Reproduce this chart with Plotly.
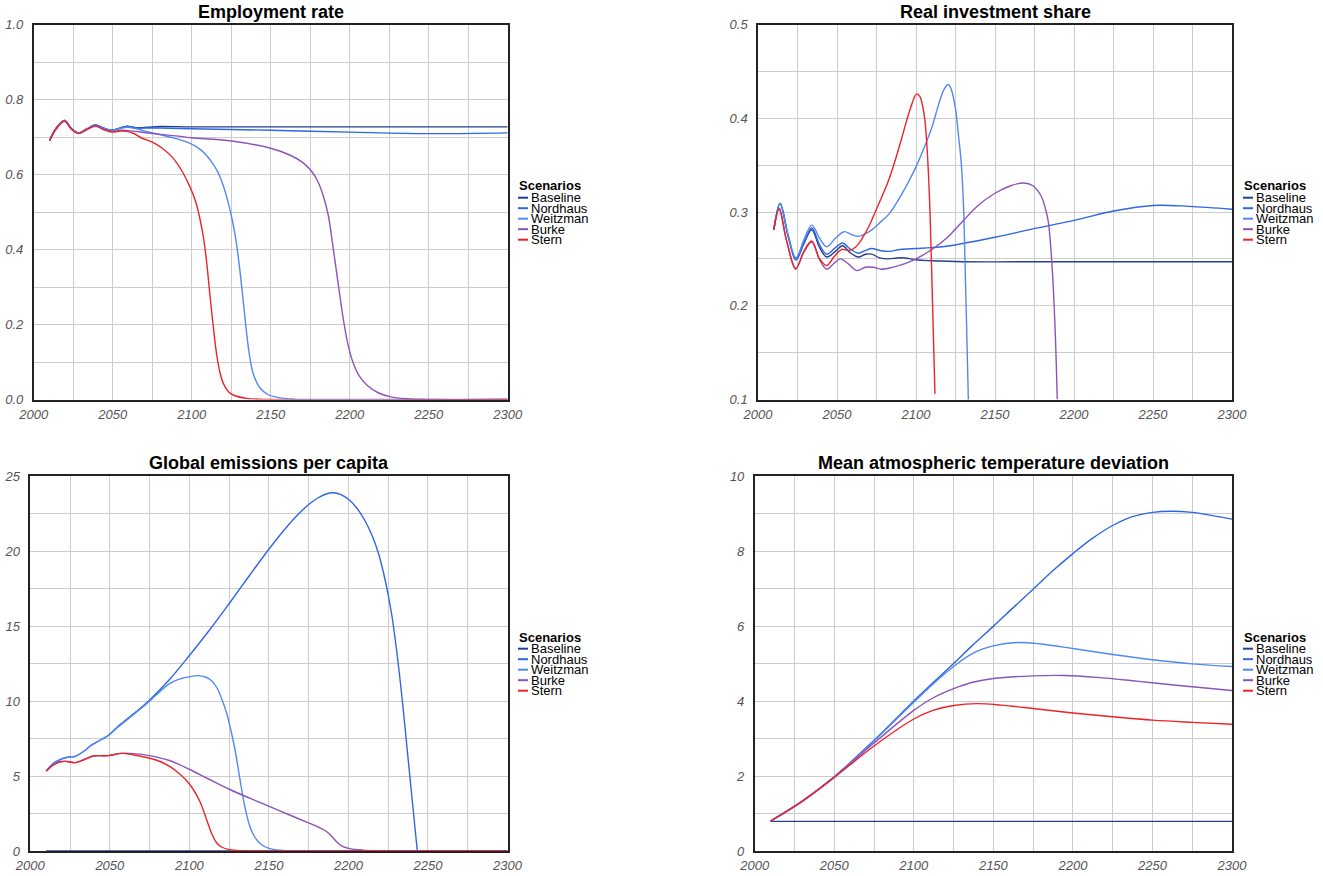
import plotly.graph_objects as go

# ---------------- data ----------------
SCENARIOS = ["Baseline", "Nordhaus", "Weitzman", "Burke", "Stern"]
COLORS = ["#243f8c", "#2e66e3", "#5088f4", "#8b54b9", "#ec2329"]

# Employment rate
emp_base_x = [2010, 2014, 2019.5, 2024, 2028.5, 2033, 2039, 2044, 2049.5, 2054, 2059, 2065, 2072, 2080, 2100, 2150, 2200, 2250, 2300]
emp_base_y = [0.690, 0.722, 0.744, 0.722, 0.711, 0.720, 0.732, 0.724, 0.718, 0.723, 0.729, 0.725, 0.726, 0.728, 0.727, 0.727, 0.727, 0.727, 0.727]
emp_nord_x = [2010, 2014, 2019.5, 2024, 2028.5, 2033, 2039, 2044, 2049.5, 2054, 2059, 2065, 2072, 2080, 2100, 2150, 2200, 2250, 2300]
emp_nord_y = [0.690, 0.722, 0.744, 0.722, 0.711, 0.720, 0.732, 0.724, 0.718, 0.723, 0.728, 0.724, 0.724, 0.724, 0.722, 0.718, 0.713, 0.709, 0.711]
emp_weit_x = [2010, 2014, 2019.5, 2024, 2028.5, 2033, 2039, 2044, 2049.5, 2054, 2059, 2065, 2074, 2086, 2099, 2106, 2112, 2116.5, 2120, 2123, 2125.5, 2128, 2130.2, 2132.3, 2134.3, 2136.5, 2139, 2143, 2148, 2155, 2165, 2180, 2300]
emp_weit_y = [0.690, 0.722, 0.744, 0.722, 0.711, 0.720, 0.731, 0.723, 0.717, 0.722, 0.726, 0.722, 0.712, 0.700, 0.683, 0.665, 0.637, 0.607, 0.570, 0.527, 0.482, 0.425, 0.355, 0.275, 0.195, 0.120, 0.068, 0.032, 0.014, 0.005, 0.001, 0.0, 0.0]
emp_burk_x = [2010, 2014, 2019.5, 2024, 2028.5, 2033, 2039, 2044, 2049.5, 2055, 2060, 2070, 2080, 2090, 2100, 2124, 2150, 2162, 2170, 2176, 2180, 2183.5, 2186.5, 2189, 2191.5, 2194, 2196.5, 2199, 2202, 2206, 2211, 2218, 2226, 2236, 2250, 2300]
emp_burk_y = [0.690, 0.721, 0.743, 0.721, 0.710, 0.719, 0.730, 0.721, 0.715, 0.718, 0.717, 0.712, 0.707, 0.703, 0.698, 0.690, 0.670, 0.652, 0.633, 0.608, 0.580, 0.540, 0.490, 0.420, 0.345, 0.270, 0.200, 0.145, 0.100, 0.063, 0.038, 0.018, 0.007, 0.002, 0.0, 0.0]
emp_ster_x = [2010, 2014, 2019.5, 2024, 2028.5, 2033, 2039, 2044, 2049.5, 2055, 2059, 2064, 2068, 2075.7, 2082, 2088.4, 2094, 2098.9, 2102.5, 2105.3, 2107.5, 2109.5, 2111.5, 2113.5, 2115.8, 2118, 2120, 2123, 2126.3, 2134.8, 2150, 2300]
emp_ster_y = [0.690, 0.720, 0.742, 0.720, 0.709, 0.718, 0.729, 0.720, 0.713, 0.716, 0.715, 0.708, 0.698, 0.685, 0.668, 0.643, 0.608, 0.567, 0.528, 0.480, 0.430, 0.365, 0.280, 0.200, 0.120, 0.070, 0.043, 0.022, 0.012, 0.003, 0.0, 0.0]

# Real investment share
inv_base_x = [2010, 2014, 2019, 2024, 2029, 2034, 2039, 2043.5, 2049, 2053.5, 2058, 2063.5, 2068, 2072, 2077, 2083, 2088, 2093, 2100, 2110, 2130, 2200, 2300]
inv_base_y = [0.281, 0.309, 0.275, 0.249, 0.266, 0.281, 0.262, 0.252, 0.258, 0.264, 0.257, 0.252, 0.255, 0.255, 0.251, 0.250, 0.251, 0.251, 0.249, 0.248, 0.247, 0.247, 0.247]
inv_nord_x = [2010, 2014, 2019, 2024, 2029, 2034, 2039, 2043.5, 2049, 2053.5, 2058, 2063.5, 2068, 2072, 2077, 2083, 2090, 2100, 2110, 2121.5, 2150, 2174, 2200, 2225, 2250, 2273, 2300]
inv_nord_y = [0.281, 0.309, 0.275, 0.249, 0.267, 0.283, 0.265, 0.255, 0.262, 0.267, 0.261, 0.256, 0.259, 0.261, 0.259, 0.258, 0.260, 0.261, 0.262, 0.264, 0.273, 0.282, 0.291, 0.301, 0.307, 0.306, 0.303]
inv_weit_x = [2010, 2014, 2019, 2024, 2029, 2034, 2039, 2043.5, 2049, 2054.5, 2059, 2063.5, 2068, 2072, 2078, 2083, 2091, 2099.4, 2105, 2110, 2113.5, 2116.3, 2118.5, 2120.5, 2122.5, 2125, 2127, 2128.5, 2130, 2131, 2132, 2133.2]
inv_weit_y = [0.281, 0.309, 0.276, 0.251, 0.270, 0.286, 0.272, 0.263, 0.272, 0.279, 0.276, 0.274, 0.277, 0.281, 0.290, 0.298, 0.319, 0.346, 0.368, 0.390, 0.410, 0.425, 0.433, 0.436, 0.430, 0.410, 0.380, 0.355, 0.310, 0.248, 0.180, 0.095]
inv_burk_x = [2010, 2013.5, 2018, 2024, 2029, 2034, 2039, 2043.5, 2048, 2052, 2057, 2062.5, 2068, 2073, 2078, 2085, 2093, 2100, 2110, 2120, 2130, 2140, 2150, 2160, 2168, 2174, 2179.5, 2182, 2183.7, 2185.9, 2188, 2189.4]
inv_burk_y = [0.281, 0.304, 0.270, 0.240, 0.257, 0.268, 0.249, 0.239, 0.245, 0.250, 0.245, 0.2375, 0.241, 0.241, 0.239, 0.241, 0.245, 0.250, 0.260, 0.273, 0.291, 0.308, 0.320, 0.328, 0.331, 0.328, 0.316, 0.303, 0.290, 0.248, 0.177, 0.100]
inv_ster_x = [2010, 2013.3, 2018, 2023.8, 2029, 2034, 2039, 2043.5, 2048, 2053, 2058, 2062, 2066, 2070, 2076, 2082.5, 2087, 2091, 2096, 2100.4, 2102.5, 2104.3, 2105.7, 2107.3, 2108.9, 2110.5, 2112]
inv_ster_y = [0.281, 0.303, 0.270, 0.239, 0.258, 0.269, 0.250, 0.243, 0.252, 0.260, 0.259, 0.263, 0.272, 0.284, 0.307, 0.333, 0.356, 0.379, 0.408, 0.426, 0.423, 0.412, 0.397, 0.360, 0.298, 0.200, 0.106]

# Global emissions per capita
ems_base_x = [2010, 2300]
ems_base_y = [0.0, 0.0]
ems_nord_x = [2010, 2014, 2020, 2024, 2028, 2033, 2038.6, 2044, 2049, 2055, 2062.6, 2069, 2075, 2087.8, 2100.3, 2112.8, 2125.4, 2138, 2150.6, 2160, 2168, 2175, 2181, 2186, 2190.5, 2195, 2200, 2205, 2210, 2215, 2219, 2223, 2227, 2230.5, 2234, 2237, 2240, 2243.3]
ems_nord_y = [5.33, 5.80, 6.15, 6.27, 6.30, 6.60, 7.07, 7.40, 7.70, 8.30, 8.95, 9.50, 10.07, 11.47, 13.07, 14.75, 16.55, 18.40, 20.20, 21.45, 22.40, 23.10, 23.55, 23.80, 23.88, 23.78, 23.45, 22.90, 22.10, 21.00, 19.80, 18.10, 15.90, 13.20, 9.90, 6.70, 3.50, 0.0]
ems_weit_x = [2010, 2014, 2020, 2024, 2028, 2033, 2038.6, 2044, 2049, 2055, 2062.6, 2069, 2075, 2087.8, 2095, 2100.3, 2105.5, 2110, 2114, 2117.5, 2120.5, 2123.4, 2126, 2128.6, 2131, 2133.2, 2135.5, 2138, 2141, 2145, 2150, 2157, 2170, 2300]
ems_weit_y = [5.33, 5.80, 6.15, 6.27, 6.30, 6.60, 7.07, 7.40, 7.70, 8.25, 8.90, 9.45, 10.00, 11.18, 11.50, 11.62, 11.69, 11.60, 11.35, 10.85, 10.10, 9.20, 8.10, 6.80, 5.30, 3.90, 2.65, 1.65, 0.95, 0.45, 0.18, 0.05, 0.0, 0.0]
ems_burk_x = [2010, 2014, 2018.7, 2023, 2028.1, 2034, 2039.6, 2049, 2057.4, 2065, 2075, 2087, 2100, 2112, 2125.4, 2138, 2150.6, 2163, 2175.7, 2182, 2186.2, 2189.5, 2192.5, 2196, 2200.8, 2209, 2220, 2240, 2300]
ems_burk_y = [5.33, 5.70, 5.95, 5.97, 5.89, 6.10, 6.33, 6.36, 6.51, 6.49, 6.36, 6.05, 5.45, 4.80, 4.10, 3.52, 2.96, 2.40, 1.84, 1.55, 1.30, 0.98, 0.62, 0.33, 0.16, 0.06, 0.02, 0.0, 0.0]
ems_ster_x = [2010, 2014, 2018.7, 2023, 2028.1, 2034, 2039.6, 2049, 2057.4, 2065, 2075.2, 2082, 2087.8, 2093, 2098.2, 2102.5, 2106.6, 2109.5, 2111.8, 2114.5, 2117.1, 2120.5, 2125.4, 2132, 2145, 2300]
ems_ster_y = [5.33, 5.70, 5.95, 5.97, 5.89, 6.10, 6.33, 6.36, 6.51, 6.40, 6.18, 5.95, 5.62, 5.22, 4.70, 4.10, 3.30, 2.50, 1.80, 1.05, 0.55, 0.25, 0.09, 0.02, 0.0, 0.0]

# Mean atmospheric temperature deviation
tmp_base_x = [2010, 2300]
tmp_base_y = [0.79, 0.79]
tmp_nord_x = [2010, 2030, 2050, 2075, 2100, 2125, 2137, 2150, 2162, 2175, 2187, 2200, 2212, 2225, 2237, 2250, 2262, 2275, 2287, 2300]
tmp_nord_y = [0.80, 1.33, 1.98, 2.95, 4.00, 5.00, 5.49, 5.99, 6.47, 6.98, 7.46, 7.93, 8.33, 8.68, 8.91, 9.03, 9.06, 9.03, 8.95, 8.85]
tmp_weit_x = [2010, 2030, 2050, 2075, 2100, 2112, 2125, 2137, 2150, 2165, 2180, 2200, 2225, 2250, 2275, 2300]
tmp_weit_y = [0.80, 1.33, 1.98, 2.94, 3.97, 4.45, 4.92, 5.27, 5.47, 5.56, 5.52, 5.40, 5.24, 5.10, 4.99, 4.92]
tmp_burk_x = [2010, 2030, 2050, 2075, 2100, 2112, 2125, 2137, 2150, 2175, 2195, 2215, 2240, 2265, 2300]
tmp_burk_y = [0.80, 1.33, 1.97, 2.88, 3.75, 4.08, 4.33, 4.50, 4.60, 4.67, 4.68, 4.63, 4.53, 4.42, 4.28]
tmp_ster_x = [2010, 2030, 2050, 2075, 2100, 2112, 2125, 2140, 2155, 2175, 2200, 2225, 2250, 2275, 2300]
tmp_ster_y = [0.80, 1.33, 1.96, 2.80, 3.52, 3.75, 3.88, 3.93, 3.89, 3.80, 3.68, 3.58, 3.49, 3.43, 3.38]

PANELS = [
    ("Employment rate", [(emp_base_x, emp_base_y), (emp_nord_x, emp_nord_y), (emp_weit_x, emp_weit_y), (emp_burk_x, emp_burk_y), (emp_ster_x, emp_ster_y)]),
    ("Real investment share", [(inv_base_x, inv_base_y), (inv_nord_x, inv_nord_y), (inv_weit_x, inv_weit_y), (inv_burk_x, inv_burk_y), (inv_ster_x, inv_ster_y)]),
    ("Global emissions per capita", [(ems_base_x, ems_base_y), (ems_nord_x, ems_nord_y), (ems_weit_x, ems_weit_y), (ems_burk_x, ems_burk_y), (ems_ster_x, ems_ster_y)]),
    ("Mean atmospheric temperature deviation", [(tmp_base_x, tmp_base_y), (tmp_nord_x, tmp_nord_y), (tmp_weit_x, tmp_weit_y), (tmp_burk_x, tmp_burk_y), (tmp_ster_x, tmp_ster_y)]),
]

# ---------------- layout ----------------
W, H = 1323, 876

def px(x):
    return x / W

def py(y):
    return 1 - y / H

# pixel boxes: (left, right, top, bottom)
BOXES = [(33.7, 507.7, 24.5, 399.5), (758.0, 1232.0, 24.5, 399.5),
         (30.3, 507.5, 476.0, 851.0), (754.7, 1232.0, 476.0, 851.0)]
YCFG = [dict(range=[0, 1.0], dtick=0.2, minor=0.1, fmt=".1f"),
        dict(range=[0.1, 0.5], dtick=0.1, minor=0.05, fmt=".1f"),
        dict(range=[0, 25], dtick=5, minor=2.5, fmt="d"),
        dict(range=[0, 10], dtick=2, minor=1, fmt="d")]
LEG = [(517, 186), (1242, 186), (517, 637), (1242, 637)]

TICKFONT = dict(family="Liberation Sans, Arial, sans-serif", size=13, color="#555555", style="italic")
GRID = "#cccccc"

fig = go.Figure()
annotations = []
shapes = []
layout = {}

for i, (title, series) in enumerate(PANELS):
    n = "" if i == 0 else str(i + 1)
    for k, (xs, ys) in enumerate(series):
        fig.add_trace(go.Scatter(
            x=xs, y=ys, mode="lines", name=SCENARIOS[k],
            line=dict(color=COLORS[k], width=1.4, shape="spline", smoothing=1.0),
            xaxis="x" + n, yaxis="y" + n, showlegend=False, cliponaxis=True,
        ))
    l, r, t, b = BOXES[i]
    yc = YCFG[i]
    layout["xaxis" + n] = dict(
        domain=[px(l), px(r)], range=[2000, 2300], anchor="y" + n,
        dtick=50, tick0=2000, showgrid=True, gridcolor=GRID, gridwidth=1,
        minor=dict(dtick=25, tick0=2000, showgrid=True, gridcolor=GRID, gridwidth=1),
        showline=True, linecolor="#222222", linewidth=1.5, mirror=True,
        ticks="", tickfont=TICKFONT, ticklabelstandoff=2, zeroline=False,
        layer="below traces", fixedrange=True, automargin=False,
    )
    layout["yaxis" + n] = dict(
        domain=[py(b), py(t)], range=yc["range"], anchor="x" + n,
        dtick=yc["dtick"], tick0=0, tickformat=yc["fmt"],
        showgrid=True, gridcolor=GRID, gridwidth=1,
        minor=dict(dtick=yc["minor"], tick0=0, showgrid=True, gridcolor=GRID, gridwidth=1),
        showline=True, linecolor="#222222", linewidth=1.5, mirror=True,
        ticks="", tickfont=TICKFONT, ticklabelstandoff=6, zeroline=False,
        layer="below traces", fixedrange=True, automargin=False,
    )
    # title
    annotations.append(dict(
        text="<b>%s</b>" % title, x=px((l + r) / 2), y=py(t - 12.5),
        xref="paper", yref="paper", xanchor="center", yanchor="middle",
        showarrow=False, font=dict(family="Liberation Sans, Arial, sans-serif", size=18, color="#000000"),
    ))
    # legend
    lx, ly = LEG[i]
    annotations.append(dict(
        text="<b>Scenarios</b>", x=px(lx), y=py(ly), xref="paper", yref="paper",
        xanchor="left", yanchor="middle", showarrow=False,
        font=dict(family="Liberation Sans, Arial, sans-serif", size=13, color="#000000"),
    ))
    for k, name in enumerate(SCENARIOS):
        yy = ly + 11.7 + k * 10.5
        shapes.append(dict(type="line", xref="paper", yref="paper",
                           x0=px(lx + 1), x1=px(lx + 11), y0=py(yy), y1=py(yy),
                           line=dict(color=COLORS[k], width=2)))
        annotations.append(dict(
            text=name, x=px(lx + 11.5), y=py(yy), xref="paper", yref="paper",
            xanchor="left", yanchor="middle", showarrow=False,
            font=dict(family="Liberation Sans, Arial, sans-serif", size=13, color="#000000"),
        ))

fig.update_layout(
    width=W, height=H, autosize=False,
    margin=dict(l=0, r=0, t=0, b=0, pad=0, autoexpand=False),
    showlegend=False,
    paper_bgcolor="white", plot_bgcolor="white",
    annotations=annotations, shapes=shapes, **layout,
)

fig.write_html("out.html")
